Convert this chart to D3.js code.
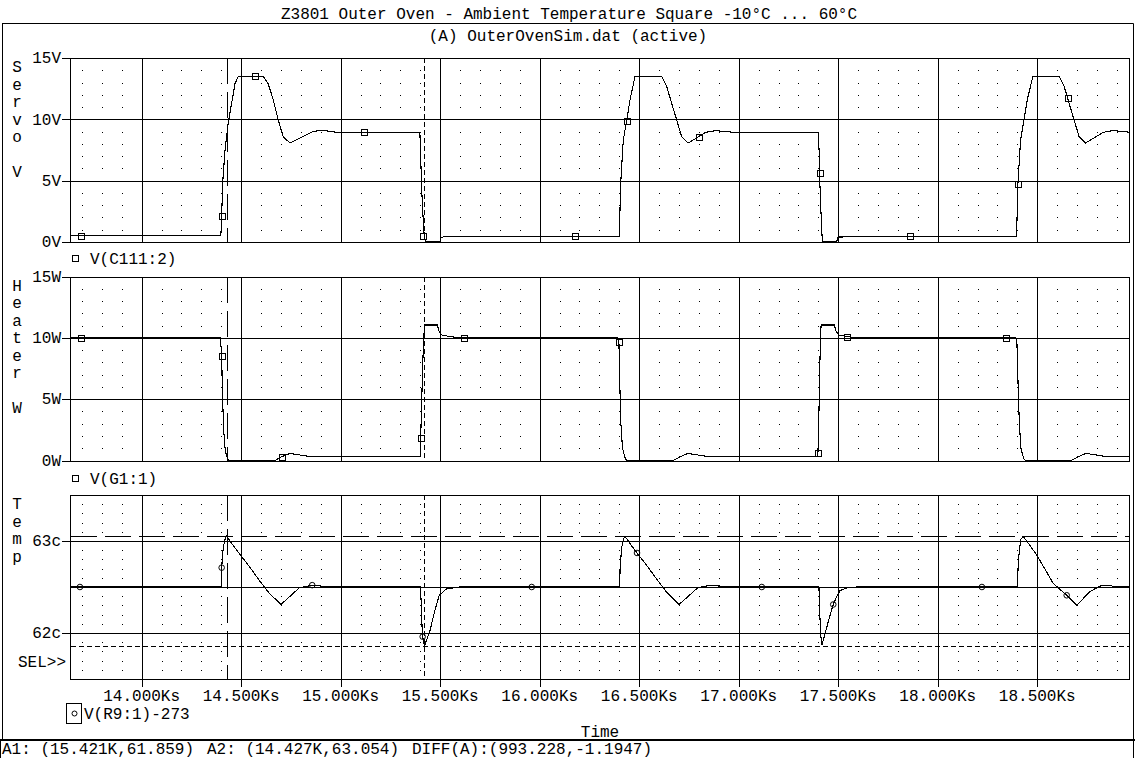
<!DOCTYPE html>
<html><head><meta charset="utf-8">
<script src="https://cdn.jsdelivr.net/npm/d3@7"></script>
<style>
html,body{margin:0;padding:0;background:#fff;}
svg text{font-family:"Liberation Mono","Courier New",monospace;font-size:16px;fill:#000;}
</style></head><body><svg id="c" width="1138" height="758"></svg>
<script>
// ---------------- DATA ----------------
const titleText = "Z3801 Outer Oven - Ambient Temperature Square -10°C ... 60°C";
const subtitleText = "(A) OuterOvenSim.dat (active)";
const timeDomain = [13640, 18961];
const timeTicks = [14000,14500,15000,15500,16000,16500,17000,17500,18000,18500];
const timeTickLabels = ["14.000Ks","14.500Ks","15.000Ks","15.500Ks","16.000Ks","16.500Ks","17.000Ks","17.500Ks","18.000Ks","18.500Ks"];

const servoDomain = [0, 15];
const servoTicks = [0, 5, 10, 15];
const servoTickLabels = ["0V","5V","10V","15V"];
const heaterDomain = [0, 15];
const heaterTicks = [0, 5, 10, 15];
const heaterTickLabels = ["0W","5W","10W","15W"];
const tempDomain = [61.5, 63.5];
const tempGrid = [62, 62.5, 63];
const tempTicks = [62, 63];
const tempTickLabels = ["62c","63c"];

const servoTitle = ["S","e","r","v","o","","V"];
const heaterTitle = ["H","e","a","t","e","r","","W"];
const tempTitle = ["T","e","m","p"];

const servoLegend = "V(C111:2)";
const heaterLegend = "V(G1:1)";
const tempLegend = "V(R9:1)-273";

// Servo voltage [time s, V]
const servoPoints = [
[13640,0.5],[14398,0.5],[14402,2.1],[14407,4.8],[14419,7.5],[14435,9.7],[14469,12.9],[14485,13.5],[14611,13.5],[14636,12.9],[14661,11.6],[14686,9.97],[14711,8.6],[14745,8.07],[14778,8.34],[14812,8.6],[14862,9.02],[14912,9.1],[14996,8.9],[15398,8.9],[15402,7.0],[15407,4.3],[15415,1.7],[15420,0.45],[15425,0.05],[15499,0.05],[15504,0.35],[15524,0.45],
[16400,0.45],[16407,4.8],[16420,8.3],[16437,9.9],[16454,11.6],[16479,13.5],[16613,13.5],[16638,12.7],[16663,11.3],[16688,9.97],[16713,8.6],[16746,8.07],[16800,8.6],[16834,8.94],[16884,9.08],[16917,9.03],[17001,8.9],[17400,8.95],[17405,7.0],[17406,5.6],[17412,2.9],[17420,0.05],[17492,0.05],[17500,0.4],[17609,0.45],
[18396,0.45],[18403,4.75],[18416,8.3],[18433,9.9],[18450,11.6],[18478,13.5],[18610,13.5],[18635,12.7],[18660,11.3],[18685,9.97],[18710,8.6],[18743,8.07],[18797,8.6],[18831,8.94],[18881,9.08],[18914,9.03],[18961,8.95]
];
const servoMarkers = [[13695,0.5],[14402,2.1],[14569,13.5],[15117,8.95],[15415,0.45],[16177,0.45],[16437,9.9],[16800,8.6],[17406,5.6],[17863,0.45],[18403,4.75],[18654,11.7]];

// Heater power [time s, W]
const heaterPoints = [
[13640,10],[14396,10],[14402,8.5],[14406,5.5],[14412,2.5],[14420,0.8],[14432,0.1],[14440,0],[14670,0],[14703,0.3],[14745,0.58],[14795,0.45],[14845,0.32],[14945,0.3],[15200,0.33],[15399,0.33],[15402,1.8],[15407,4.7],[15412,7.65],[15417,10],[15422,11.05],[15485,11.05],[15495,10.5],[15507,10.24],[15549,10.1],[15599,10],
[16392,10],[16398,9.7],[16402,6.5],[16408,3],[16416,1],[16430,0.15],[16440,0],[16670,0],[16705,0.3],[16745,0.58],[16795,0.45],[16845,0.32],[16945,0.3],[17200,0.33],[17396,0.33],[17398,0.6],[17402,3],[17406,6.5],[17410,9.5],[17414,11.05],[17480,11.05],[17490,10.5],[17502,10.24],[17544,10.1],[17594,10],
[18392,10],[18398,9.5],[18404,6],[18410,3],[18418,1],[18432,0.15],[18442,0],[18670,0],[18705,0.3],[18745,0.58],[18795,0.45],[18845,0.32],[18961,0.3]
];
const heaterMarkers = [[13695,10],[14402,8.5],[14703,0.3],[15402,1.8],[15621,10],[16398,9.7],[17398,0.6],[17544,10.1],[18343,10]];

// Oven temperature [time s, degC]
const tempPoints = [
[13640,62.5],[14400,62.5],[14402,62.71],[14410,62.93],[14419,63.02],[14427,63.054],[14450,62.98],[14492,62.86],[14542,62.72],[14592,62.57],[14642,62.43],[14700,62.31],[14741,62.39],[14792,62.49],[14857,62.52],[14904,62.51],[14950,62.5],[15400,62.5],[15405,62.32],[15410,62.0],[15412,61.96],[15421,61.859],[15449,62.03],[15474,62.25],[15495,62.41],[15532,62.48],[15598,62.5],
[16402,62.5],[16404,62.71],[16412,62.93],[16421,63.02],[16429,63.05],[16451,62.98],[16489,62.87],[16543,62.72],[16593,62.57],[16643,62.43],[16700,62.31],[16742,62.39],[16793,62.49],[16858,62.52],[16905,62.51],[16950,62.5],
[17403,62.5],[17406,62.3],[17411,62.0],[17418,61.87],[17447,62.1],[17475,62.31],[17495,62.41],[17509,62.46],[17543,62.49],[17593,62.5],
[18400,62.5],[18405,62.79],[18417,63.02],[18430,63.05],[18497,62.85],[18580,62.54],[18648,62.41],[18698,62.3],[18765,62.45],[18815,62.51],[18849,62.52],[18907,62.5],[18961,62.5]
];
const tempMarkers = [[13690,62.5],[14402,62.71],[14857,62.52],[15412,61.96],[15960,62.5],[16489,62.87],[17116,62.5],[17475,62.31],[18222,62.5],[18648,62.41]];

// Cursors [time, value]
const cursorA1 = [15421, 61.859];
const cursorA2 = [14427, 63.054];
const statusTexts = ["A1: (15.421K,61.859)", "A2: (14.427K,63.054)", "DIFF(A):(993.228,-1.1947)"];

// ---------------- DRAW ----------------
const svg = d3.select("#c");
const L = 70, R = 1129, PH = 184;
const x = d3.scaleLinear().domain(timeDomain).range([L, R]);
const px = v => Math.round(v) + 0.5;

// frame
svg.append("line").attr("x1",2).attr("x2",1133.5).attr("y1",23.5).attr("y2",23.5).attr("stroke","#000");
svg.append("line").attr("x1",2.5).attr("x2",2.5).attr("y1",23.5).attr("y2",740).attr("stroke","#000");
svg.append("line").attr("x1",1133.5).attr("x2",1133.5).attr("y1",23.5).attr("y2",758).attr("stroke","#000");
svg.append("rect").attr("x",0).attr("y",739).attr("width",1135).attr("height",2).attr("fill","#000");
svg.append("line").attr("x1",0.5).attr("x2",0.5).attr("y1",741).attr("y2",758).attr("stroke","#000");

svg.append("text").attr("x",569).attr("y",19).attr("text-anchor","middle").text(titleText);
svg.append("text").attr("x",568).attr("y",41).attr("text-anchor","middle").text(subtitleText);

const panels = [
  {top:58, domain:servoDomain, grid:servoTicks, ticks:servoTicks, labels:servoTickLabels, minor:1, title:servoTitle,
   pts:servoPoints, marks:servoMarkers, mark:"square", legend:servoLegend},
  {top:276.5, domain:heaterDomain, grid:heaterTicks, ticks:heaterTicks, labels:heaterTickLabels, minor:1, title:heaterTitle,
   pts:heaterPoints, marks:heaterMarkers, mark:"square", legend:heaterLegend},
  {top:495, domain:tempDomain, grid:tempGrid, ticks:tempTicks, labels:tempTickLabels, minor:0.1, title:tempTitle,
   pts:tempPoints, marks:tempMarkers, mark:"circle", legend:tempLegend}
];

const minorTimes = d3.range(13700, timeDomain[1], 100).filter(t => t % 500 !== 0);

panels.forEach((p, pi) => {
  const y = d3.scaleLinear().domain(p.domain).range([p.top + PH, p.top]);
  p.y = y;
  const g = svg.append("g");
  // minor dots
  const nSteps = Math.round((p.domain[1]-p.domain[0]) / p.minor);
  const minorVals = [];
  for (let k = 1; k < nSteps; k++) {
    const v = p.domain[0] + k * p.minor;
    if (p.grid.some(gv => Math.abs(gv - v) < 1e-6)) continue;
    minorVals.push(v);
  }
  const dots = [];
  minorTimes.forEach(t => minorVals.forEach(v => dots.push([t, v])));
  g.selectAll("rect.dot").data(dots).enter().append("rect")
    .attr("x", d => Math.round(x(d[0]))).attr("y", d => Math.round(y(d[1])))
    .attr("width",1).attr("height",1).attr("fill","#000");
  // major grid
  g.selectAll("line.vg").data(timeTicks).enter().append("line")
    .attr("x1", d => px(x(d))).attr("x2", d => px(x(d)))
    .attr("y1", p.top).attr("y2", p.top + PH)
    .attr("stroke","#000").attr("shape-rendering","crispEdges");
  g.selectAll("line.hg").data(p.grid).enter().append("line")
    .attr("x1", L).attr("x2", R)
    .attr("y1", d => px(y(d))).attr("y2", d => px(y(d)))
    .attr("stroke","#000").attr("shape-rendering","crispEdges");
  g.append("rect").attr("x", px(L)).attr("y", px(p.top)).attr("width", Math.round(R-L)).attr("height", Math.round(PH))
    .attr("fill","none").attr("stroke","#000").attr("shape-rendering","crispEdges");
  // y ticks
  g.selectAll("line.yt").data(p.ticks).enter().append("line")
    .attr("x1", 62).attr("x2", L).attr("y1", d => px(y(d))).attr("y2", d => px(y(d)))
    .attr("stroke","#000").attr("shape-rendering","crispEdges");
  g.selectAll("text.yl").data(p.ticks).enter().append("text")
    .attr("x", 61).attr("y", d => y(d)).attr("dy","0.33em").attr("text-anchor","end")
    .text((d,i) => p.labels[i]);
  // vertical title letters
  g.selectAll("text.tl").data(p.title).enter().append("text")
    .attr("x", 17).attr("y", (d,i) => p.top + 9 + i*17.5).attr("dy","0.33em").attr("text-anchor","middle")
    .text(d => d);
});

// cursors (vertical) in every panel
panels.forEach(p => {
  svg.append("line").attr("x1", px(x(cursorA2[0]))).attr("x2", px(x(cursorA2[0])))
    .attr("y1", p.top).attr("y2", p.top + PH).attr("stroke","#000").attr("stroke-dasharray","26,8")
    .attr("shape-rendering","crispEdges");
  svg.append("line").attr("x1", px(x(cursorA1[0]))).attr("x2", px(x(cursorA1[0])))
    .attr("y1", p.top).attr("y2", p.top + PH).attr("stroke","#000").attr("stroke-dasharray","5,3")
    .attr("shape-rendering","crispEdges");
});
const yT = panels[2].y;
svg.append("line").attr("x1", L+1).attr("x2", R).attr("y1", px(yT(cursorA2[1]))).attr("y2", px(yT(cursorA2[1])))
  .attr("stroke","#000").attr("stroke-dasharray","26,8").attr("shape-rendering","crispEdges");
svg.append("line").attr("x1", L+1).attr("x2", R).attr("y1", px(yT(cursorA1[1]))).attr("y2", px(yT(cursorA1[1])))
  .attr("stroke","#000").attr("stroke-dasharray","5,3").attr("shape-rendering","crispEdges");

// traces and markers
panels.forEach(p => {
  const line = d3.line().x(d => x(d[0])).y(d => p.y(d[1]));
  svg.append("path").datum(p.pts).attr("d", line).attr("fill","none").attr("stroke","#000")
    .attr("stroke-width",1.1).attr("shape-rendering","crispEdges");
  if (p.mark === "square") {
    svg.selectAll(null).data(p.marks).enter().append("rect")
      .attr("x", d => Math.round(x(d[0])) - 2.5).attr("y", d => Math.round(p.y(d[1])) - 2.5)
      .attr("width",6).attr("height",6).attr("fill","none").attr("stroke","#000").attr("shape-rendering","crispEdges");
  } else {
    svg.selectAll(null).data(p.marks).enter().append("circle")
      .attr("cx", d => x(d[0])).attr("cy", d => p.y(d[1])).attr("r",2.8)
      .attr("fill","none").attr("stroke","#000");
  }
});

// x axis ticks on bottom panel
const bot = panels[2].top + PH;
svg.selectAll("line.xt").data(timeTicks).enter().append("line")
  .attr("x1", d => px(x(d))).attr("x2", d => px(x(d))).attr("y1", bot).attr("y2", bot + 8)
  .attr("stroke","#000").attr("shape-rendering","crispEdges");
svg.selectAll("text.xl").data(timeTicks).enter().append("text")
  .attr("x", d => x(d)).attr("y", 701).attr("text-anchor","middle").text((d,i) => timeTickLabels[i]);

// legends
svg.append("rect").attr("x",72.5).attr("y",255.5).attr("width",6).attr("height",6).attr("fill","none").attr("stroke","#000");
svg.append("text").attr("x",90).attr("y",264).text(servoLegend);
svg.append("rect").attr("x",72.5).attr("y",475.5).attr("width",6).attr("height",6).attr("fill","none").attr("stroke","#000");
svg.append("text").attr("x",90).attr("y",484).text(heaterLegend);
svg.append("rect").attr("x",66.5).attr("y",703.5).attr("width",15).attr("height",20).attr("fill","none").attr("stroke","#000");
svg.append("circle").attr("cx",74.5).attr("cy",713.5).attr("r",2.5).attr("fill","none").attr("stroke","#000");
svg.append("text").attr("x",84).attr("y",719).text(tempLegend);

svg.append("text").attr("x",18).attr("y",667).text("SEL>>");
svg.append("text").attr("x",600).attr("y",737).attr("text-anchor","middle").text("Time");

svg.append("text").attr("x",2).attr("y",754).text(statusTexts[0]);
svg.append("text").attr("x",207).attr("y",754).text(statusTexts[1]);
svg.append("text").attr("x",412).attr("y",754).text(statusTexts[2]);
</script></body></html>
